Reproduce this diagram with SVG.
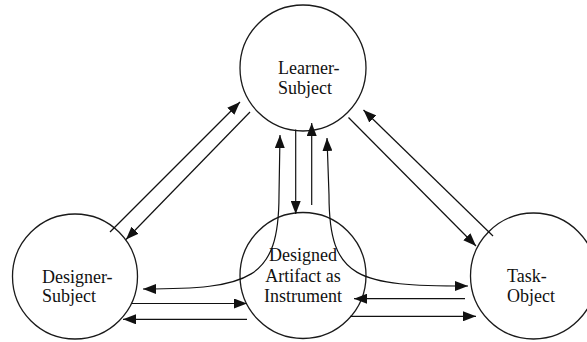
<svg xmlns="http://www.w3.org/2000/svg" width="587" height="342" viewBox="0 0 587 342">
<style>
.node circle{fill:#fff;stroke:#1a1a1a;stroke-width:1.3}
.node text{font-family:"Liberation Serif","Times New Roman",serif;font-size:18px;fill:#111}
.conn path,.conn line{fill:none;stroke:#111;stroke-width:1.2}
.a{marker-end:url(#ah)}
.b{marker-start:url(#ah);marker-end:url(#ah)}
</style>
<defs>
<marker id="ah" viewBox="0 0 13 10" refX="13" refY="5" markerWidth="13" markerHeight="10" markerUnits="userSpaceOnUse" orient="auto-start-reverse">
<path d="M0,0 L13,5 L0,10 z" fill="#111"/>
</marker>
</defs>
<rect width="587" height="342" fill="#fff"/>
<g class="node" id="learner">
<circle cx="303" cy="68" r="63"/>
<text x="278" y="74">Learner-</text>
<text x="278" y="94">Subject</text>
</g>
<g class="node" id="designer">
<circle cx="75" cy="276.5" r="62.5"/>
<text x="42" y="283">Designer-</text>
<text x="42" y="302">Subject</text>
</g>
<g class="node" id="artifact">
<circle cx="303" cy="275.5" r="63"/>
<text x="303" y="261" text-anchor="middle">Designed</text>
<text x="303" y="281.5" text-anchor="middle">Artifact as</text>
<text x="303" y="301.5" text-anchor="middle">Instrument</text>
</g>
<g class="node" id="task">
<circle cx="533.5" cy="276" r="63"/>
<text x="507" y="282">Task-</text>
<text x="507" y="302">Object</text>
</g>
<g class="conn" id="connectors">
<line class="a" x1="110" y1="232" x2="240" y2="102"/>
<line class="a" x1="250" y1="112" x2="126" y2="239.5"/>
<line class="a" x1="348.5" y1="117.5" x2="476" y2="246"/>
<line class="a" x1="493" y1="236" x2="363.5" y2="110"/>
<line class="a" x1="295.7" y1="129.5" x2="295.7" y2="214"/>
<line class="a" x1="311.7" y1="205" x2="311.7" y2="123"/>
<path class="b" d="M143,289 C250,289 279,280 279,195 L280,135"/>
<path class="b" d="M327,138 L329,195 C329,280 358,286 468,286"/>
<line class="a" x1="132" y1="303.5" x2="247" y2="303.5"/>
<line class="a" x1="247" y1="319.3" x2="123" y2="319.3"/>
<line class="a" x1="465" y1="298.7" x2="354" y2="298.7"/>
<line class="a" x1="350" y1="316.3" x2="476" y2="316.3"/>
</g>
</svg>
